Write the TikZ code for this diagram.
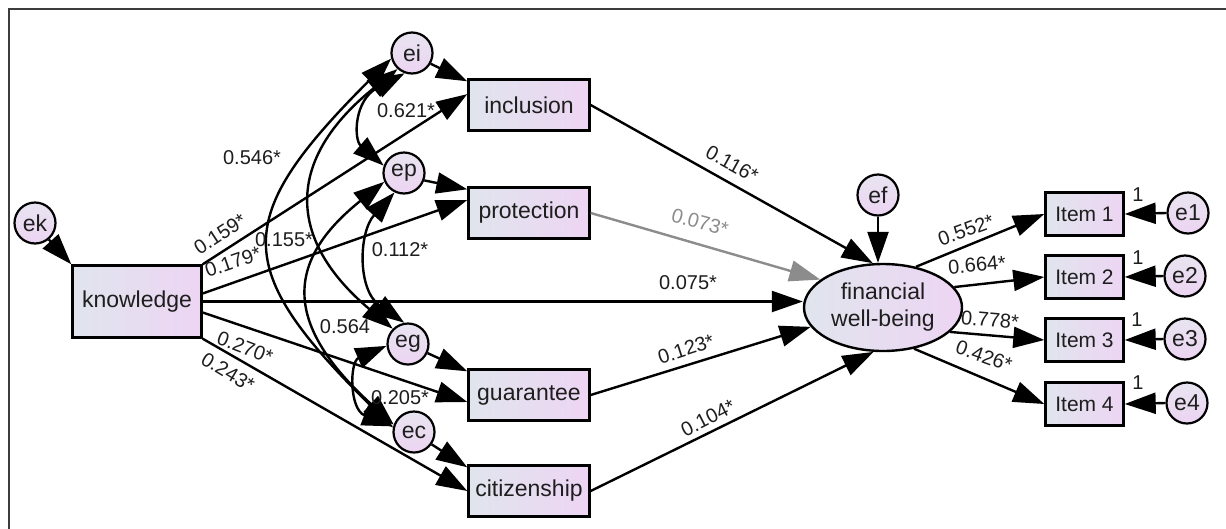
\documentclass[tikz,border=0pt]{standalone}
\usepackage{fontspec}
\setmainfont{Liberation Sans}
\usetikzlibrary{arrows.meta,shapes.geometric}
\definecolor{lc}{RGB}{224,229,237}
\definecolor{rc}{RGB}{237,213,243}
\definecolor{ctop}{RGB}{232,228,240}
\definecolor{cbot}{RGB}{236,212,242}
\definecolor{framec}{RGB}{60,60,60}
\definecolor{grayarr}{RGB}{140,140,140}
\definecolor{txt}{RGB}{30,30,30}
\tikzset{
  box/.style={draw, line width=2.4pt, rectangle, left color=lc, right color=rc,
    minimum width=121pt, minimum height=51pt, inner sep=0pt, text=txt,
    font=\fontsize{23}{27}\selectfont},
  itembox/.style={box, minimum width=78pt, minimum height=43pt, font=\fontsize{21}{25}\selectfont},
  err/.style={draw, circle, line width=2.2pt, top color=ctop, bottom color=cbot,
    minimum size=41pt, inner sep=0pt, text=txt, font=\fontsize{23}{27}\selectfont},
  lat/.style={draw, ellipse, line width=2.4pt, left color=lc, right color=rc,
    minimum width=158pt, minimum height=87pt, inner sep=0pt, align=center, text=txt,
    font=\fontsize{23}{27}\selectfont},
  arr/.style={line width=2.4pt, -{Triangle[length=31pt,width=21pt]}},
  cov/.style={line width=2.4pt, {Triangle[length=31pt,width=21pt]}-{Triangle[length=31pt,width=21pt]}},
  lbl/.style={font=\fontsize{20}{24}\selectfont, inner sep=0pt, text=txt},
}
\begin{document}
\begin{tikzpicture}[x=1pt,y=-1pt]
\useasboundingbox (0,0) rectangle (1226,528);
\clip (0,0) rectangle (1226,528);
\fill[white] (0,0) rectangle (1226,528);
\draw[framec, line width=1.6pt] (9,9) rectangle (1260,560);

% nodes
\node[err] (ek) at (35,223) {ek};
\node[box, minimum width=129pt, minimum height=72pt] (knowledge) at (137,301.5) {knowledge};
\node[err] (ei) at (412,53) {ei};
\node[err] (ep) at (404,173) {ep};
\node[err] (eg) at (408,344) {eg};
\node[err] (ec) at (414,432) {ec};
\node[box] (inclusion) at (529,105) {inclusion};
\node[box] (protection) at (529,213) {protection};
\node[box] (guarantee) at (529,395) {guarantee};
\node[box] (citizenship) at (529,491) {citizenship};
\node[lat] (fwb) at (883,307.5) {financial\\well-being};
\node[err] (ef) at (878,195) {ef};
\node[itembox] (i1) at (1084.5,214) {Item 1};
\node[itembox] (i2) at (1084.5,277) {Item 2};
\node[itembox] (i3) at (1084.5,340) {Item 3};
\node[itembox] (i4) at (1084.5,404) {Item 4};
\node[err] (e1) at (1188,213) {e1};
\node[err] (e2) at (1185,276) {e2};
\node[err] (e3) at (1185,339) {e3};
\node[err] (e4) at (1187,403) {e4};

% covariances
\draw[cov] (ei.195) .. controls +(-160,160) and +(-162,-160) .. (ec.168);
\draw[cov] (ei.228) .. controls +(-112,90) and +(-107,-90) .. (eg.135);
\draw[cov] (ep.204) .. controls +(-100,80) and +(-110,-100) .. (ec.160);
\draw[cov] (ep.244) .. controls +(-36,40) and +(-47,-33) .. (eg.100);
\draw[cov] (ei.250) .. controls +(-51,27) and +(-30,-26) .. (ep.160);
\draw[cov] (eg.185) .. controls +(-37,16) and +(-44,-17) .. (ec.165);

% paths
\draw[arr] (ek.-50) -- (knowledge.north west);
\draw[arr] (knowledge.north east) -- (inclusion.170);
\draw[arr] (ei.-30) -- ([yshift=-3pt]inclusion.north west);
\draw[arr] ([yshift=8pt]knowledge.east) -- ([yshift=13pt]protection.west);
\draw[arr] (ep.-20) -- ([yshift=-3pt]protection.north west);
\draw[arr] (knowledge.east) -- (knowledge.east -| fwb.west);
\draw[arr] ([yshift=-11pt]knowledge.east) -- ([yshift=-7pt]guarantee.west);
\draw[arr] (eg.-25) -- ([yshift=-3pt]guarantee.north west);
\draw[arr] (knowledge.south east) -- (citizenship.west);
\draw[arr] (ec.-35) -- ([yshift=-3pt]citizenship.north west);
\draw[arr] (inclusion.east) -- (fwb.103);
\draw[arr, grayarr] (protection.east) -- (fwb.156);
\draw[arr] (guarantee.east) -- (fwb.195);
\draw[arr] (citizenship.east) -- (fwb.258);
\draw[arr] (ef.south) -- (ef.south |- fwb.north);
\draw[arr] (fwb.51) -- (i1.west);
\draw[arr] (fwb.16) -- (i2.west);
\draw[arr] (fwb.-20) -- (i3.west);
\draw[arr] (fwb.-53) -- (i4.west);
\draw[arr] (e1.west) -- (i1.east);
\draw[arr] (e2.west) -- (i2.east);
\draw[arr] (e3.west) -- (i3.east);
\draw[arr] (e4.west) -- (i4.east);

% labels
\node[lbl] (l546) at (252,158) {0.546*};
\node[lbl] (l621) at (406,111) {0.621*};
\node[lbl] (l155) at (284,240) {0.155*};
\node[lbl] (l112) at (400,250) {0.112*};
\node[lbl] (l564) at (345,327) {0.564};
\node[lbl] (l205) at (400,398) {0.205*};
\node[lbl, rotate=33] (l159) at (220,234) {0.159*};
\node[lbl, rotate=19] (l179) at (233,262) {0.179*};
\node[lbl, rotate=-21] (l270) at (245,347) {0.270*};
\node[lbl, rotate=-31] (l243) at (228,372) {0.243*};
\node[lbl] (l075) at (688,283) {0.075*};
\node[lbl, rotate=-29] (l116) at (732,164) {0.116*};
\node[lbl, rotate=-15, text=grayarr] (l073) at (700,222) {0.073*};
\node[lbl, rotate=18] (l123) at (686,349) {0.123*};
\node[lbl, rotate=27] (l104) at (708,418) {0.104*};
\node[lbl, rotate=20] (l552) at (966,230) {0.552*};
\node[lbl, rotate=5] (l664) at (977,265) {0.664*};
\node[lbl, rotate=-5] (l778) at (990,320) {0.778*};
\node[lbl, rotate=-20] (l426) at (984,356) {0.426*};
\node[lbl] (o1) at (1138,195) {1};
\node[lbl] (o2) at (1138,258) {1};
\node[lbl] (o3) at (1137,320) {1};
\node[lbl] (o4) at (1138,383) {1};
\end{tikzpicture}
\end{document}
